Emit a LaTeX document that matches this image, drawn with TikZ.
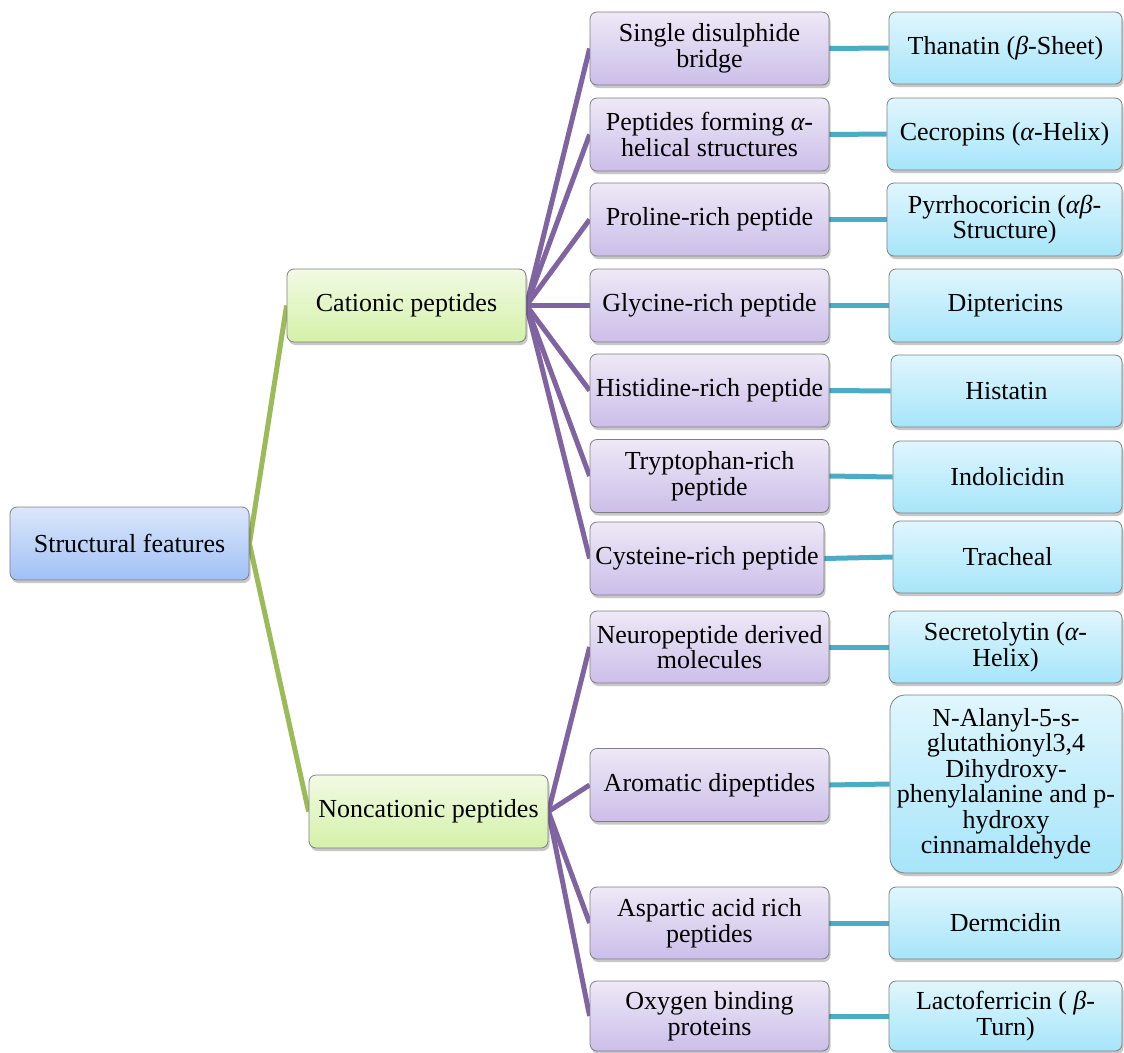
\documentclass[tikz,border=0pt]{standalone}
\usepackage{fontspec}
\setmainfont{Liberation Serif}
\usetikzlibrary{shadows,backgrounds}
\definecolor{purpline}{HTML}{8064A2}
\definecolor{grnline}{HTML}{9BBB59}
\definecolor{tealline}{HTML}{4BACC6}
\definecolor{boxborder}{HTML}{7F7F7F}
\definecolor{bluetop}{RGB}{220,231,251}
\definecolor{bluebot}{RGB}{160,192,246}
\definecolor{grntop}{RGB}{242,250,228}
\definecolor{grnbot}{RGB}{212,241,168}
\definecolor{purtop}{RGB}{238,233,247}
\definecolor{purbot}{RGB}{204,190,233}
\definecolor{cyatop}{RGB}{224,246,253}
\definecolor{cyabot}{RGB}{166,229,250}
\begin{document}
\begin{tikzpicture}[x=1pt,y=-1pt,
  basebox/.style={draw=boxborder,line width=0.8pt,rounded corners=7pt,
    align=center,inner sep=2pt,font=\fontsize{26}{25.5}\selectfont,
    minimum width=239pt,minimum height=73pt,
    drop shadow={shadow xshift=1.5pt,shadow yshift=-3pt,fill=black,opacity=0.22}},
  bluebox/.style={basebox,top color=bluetop,bottom color=bluebot},
  grnbox/.style={basebox,top color=grntop,bottom color=grnbot},
  purbox/.style={basebox,top color=purtop,bottom color=purbot},
  cyabox/.style={basebox,top color=cyatop,bottom color=cyabot,minimum width=233pt},
  grnconn/.style={draw=grnline,line width=5pt},
  purconn/.style={draw=purpline,line width=5pt},
  tealconn/.style={draw=tealline,line width=5pt}]
\useasboundingbox (0,0) rectangle (1124,1052);

% level 0 and 1
\node[bluebox] (sf) at (129.5,543.5) {Structural features};
\node[grnbox] (cat) at (406.5,305.5) {Cationic peptides};
\node[grnbox] (non) at (428.5,811.5) {Noncationic peptides};

% level 2
\node[purbox] (m1) at (709.5,48.5) {Single disulphide\\bridge};
\node[purbox] (m2) at (709.5,134.5) {Peptides forming {\itshape α}-\\helical structures};
\node[purbox] (m3) at (709.5,219.5) {Proline-rich peptide};
\node[purbox] (m4) at (709.5,305.5) {Glycine-rich peptide};
\node[purbox] (m5) at (709.5,390.5) {Histidine-rich peptide};
\node[purbox] (m6) at (709.5,476) {Tryptophan-rich\\peptide};
\node[purbox,minimum width=234pt] (m7) at (707,558.5) {Cysteine-rich peptide};
\node[purbox,minimum height=72pt] (m8) at (709.5,647) {Neuropeptide derived\\molecules};
\node[purbox] (m9) at (709.5,785) {Aromatic dipeptides};
\node[purbox,minimum height=72pt] (m10) at (709.5,923) {Aspartic acid rich\\peptides};
\node[purbox,minimum height=70pt] (m11) at (709.5,1016) {Oxygen binding\\proteins};

% level 3
\node[cyabox,minimum height=72pt] (r1) at (1005.5,48) {Thanatin ({\itshape β}-Sheet)};
\node[cyabox,minimum width=235pt,minimum height=72pt] (r2) at (1004.5,134) {Cecropins ({\itshape α}-Helix)};
\node[cyabox,minimum width=235pt] (r3) at (1004.5,219.5) {Pyrrhocoricin ({\itshape αβ}-\\Structure)};
\node[cyabox] (r4) at (1005.5,305.5) {Diptericins};
\node[cyabox,minimum width=231pt,minimum height=72pt] (r5) at (1006.5,391) {Histatin};
\node[cyabox,minimum width=229pt,minimum height=72pt] (r6) at (1007.5,477) {Indolicidin};
\node[cyabox,minimum width=229pt,minimum height=72pt] (r7) at (1007.5,557) {Tracheal};
\node[cyabox,minimum height=72pt] (r8) at (1005.5,647) {Secretolytin ({\itshape α}-\\Helix)};
\node[cyabox,minimum width=232pt,minimum height=178pt,rounded corners=15pt] (r9) at (1006,784) {N-Alanyl-5-s-\\glutathionyl3,4\\Dihydroxy-\\phenylalanine and p-\\hydroxy\\cinnamaldehyde};
\node[cyabox,minimum height=72pt] (r10) at (1005.5,923) {Dermcidin};
\node[cyabox,minimum height=70pt] (r11) at (1005.5,1016) {Lactoferricin ( {\itshape β}-\\Turn)};

% connectors
\begin{scope}[on background layer]
\draw[grnconn] (sf.east) -- (cat.west);
\draw[grnconn] (sf.east) -- (non.west);
\foreach \i in {1,...,7} \draw[purconn] (cat.east) -- (m\i.west);
\foreach \i in {8,...,11} \draw[purconn] (non.east) -- (m\i.west);
\foreach \i in {1,...,11} \draw[tealconn] (m\i.east) -- (r\i.west);
\end{scope}
\end{tikzpicture}
\end{document}
